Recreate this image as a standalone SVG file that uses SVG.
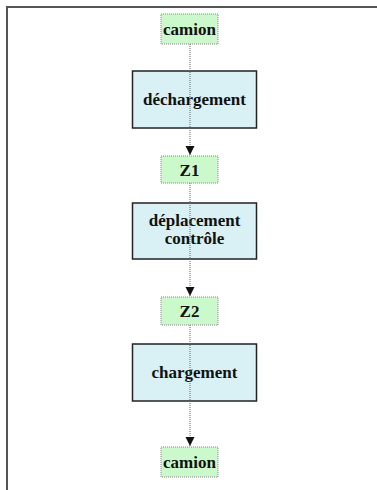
<svg xmlns="http://www.w3.org/2000/svg" width="377" height="490" viewBox="0 0 377 490">
<style>
.zone{fill:#ccf9cc;stroke:#888;stroke-width:1;stroke-dasharray:1 1}
.op{fill:#d9f1f4;stroke:#222;stroke-width:1.5}
.t{font-family:"Liberation Serif","Times New Roman",serif;font-weight:bold;font-size:17px;fill:#111;text-anchor:middle}
.c{stroke:#666;stroke-width:1;stroke-dasharray:1 1;fill:none}
</style>
<defs>
<marker id="ah" markerUnits="userSpaceOnUse" markerWidth="12" markerHeight="12" refX="9" refY="5" orient="auto">
<path d="M0,0.5 L9,5 L0,9.5 z" fill="#111"/>
</marker>
</defs>
<rect width="377" height="490" fill="#fff"/>
<path d="M7,490 V7 H377" fill="none" stroke="#555" stroke-width="2"/>
<g id="camion1"><rect class="zone" x="161" y="14" width="57" height="30"/><text class="t" x="189.5" y="35">camion</text></g>
<g id="dechargement"><rect class="op" x="132.5" y="71" width="124" height="57"/><text class="t" x="194.5" y="105">déchargement</text></g>
<g id="Z1"><rect class="zone" x="161" y="156" width="57" height="27"/><text class="t" x="189.5" y="176">Z1</text></g>
<g id="deplacement"><rect class="op" x="132.5" y="203" width="124" height="56"/><text class="t" x="194.5" y="226">déplacement</text><text class="t" x="194.5" y="244">contrôle</text></g>
<g id="Z2"><rect class="zone" x="161" y="297" width="57" height="28"/><text class="t" x="189.5" y="317">Z2</text></g>
<g id="chargement"><rect class="op" x="132.5" y="344" width="124" height="57"/><text class="t" x="194.5" y="378">chargement</text></g>
<g id="camion2"><rect class="zone" x="161" y="447" width="57" height="30"/><text class="t" x="189.5" y="468">camion</text></g>
<g id="connectors">
<line class="c" x1="190" y1="44" x2="190" y2="155" marker-end="url(#ah)"/>
<line class="c" x1="190" y1="183" x2="190" y2="296" marker-end="url(#ah)"/>
<line class="c" x1="190" y1="325" x2="190" y2="446" marker-end="url(#ah)"/>
</g>
</svg>
